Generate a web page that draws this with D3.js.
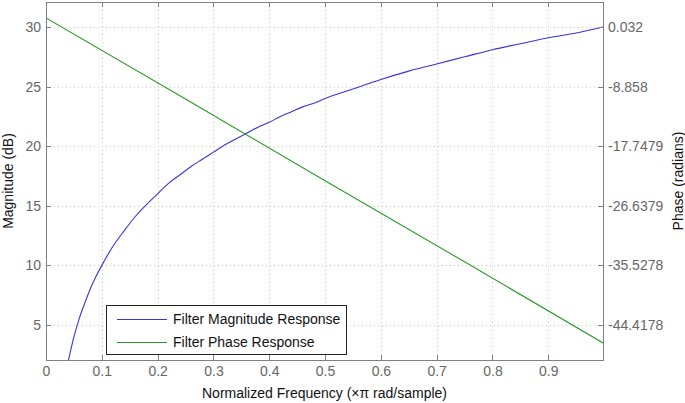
<!DOCTYPE html>
<html lang="en">
<head>
	<meta charset="UTF-8">
	<title>Filter response</title>
	<script src="https://d3js.org/d3.v7.min.js"></script>
	<style>
		body { margin: 0; background-color: white; }
		svg { display: block; background-color: white; }
		.axis path { stroke: none; }
		.axis line { stroke: #808080; shape-rendering: crispEdges; }
		.axis text { font-family: "Liberation Sans", Arial, sans-serif; font-size: 14px; fill: #666; }
		.grid line { stroke: #c8c8c8; stroke-dasharray: 1,3; shape-rendering: crispEdges; }
		.title { font-family: "Liberation Sans", Arial, sans-serif; font-size: 14px; fill: #111; }
		.legend text { font-family: "Liberation Sans", Arial, sans-serif; font-size: 14px; fill: #111; }
	</style>
</head>
<body>
	<script>
		// values
		var freq = [0.039, 0.04, 0.05, 0.06, 0.07, 0.08, 0.09, 0.10, 0.12, 0.14, 0.16, 0.18, 0.20,
			0.22, 0.24, 0.26, 0.28, 0.30, 0.32, 0.34, 0.36, 0.38, 0.40, 0.42, 0.44, 0.46, 0.48, 0.50,
			0.55, 0.60, 0.65, 0.70, 0.75, 0.80, 0.85, 0.90, 0.95, 0.998];
		var magnitude = [1.8, 2.0, 4.0, 5.6, 6.9, 8.1, 9.1, 10.0, 11.6, 12.9, 14.1, 15.1, 16.0,
			16.9, 17.6, 18.3, 18.9, 19.5, 20.1, 20.6, 21.1, 21.6, 22.0, 22.5, 22.9, 23.3, 23.6, 24.0,
			24.8, 25.6, 26.3, 26.9, 27.5, 28.1, 28.6, 29.1, 29.5, 30.0];
		var phaseFreq = [0, 0.25, 0.5, 0.75, 0.998];
		var phase = [1.4, -10.7, -22.9, -35.0, -47.1];

		var xTicks = [0, 0.1, 0.2, 0.3, 0.4, 0.5, 0.6, 0.7, 0.8, 0.9];
		var magTicks = [5, 10, 15, 20, 25, 30];
		var phaseTicks = [0.032, -8.858, -17.7479, -26.6379, -35.5278, -44.4178];
		var phaseTickLabels = ['0.032', '-8.858', '-17.7479', '-26.6379', '-35.5278', '-44.4178'];
		var seriesNames = ['Filter Magnitude Response', 'Filter Phase Response'];
		var seriesColors = ['#3535dc', '#2a9a2a'];

		var W = 685, H = 403;
		var margin = {top: 2, right: 82, bottom: 43, left: 46};
		var width = W - margin.left - margin.right,
			height = H - margin.top - margin.bottom;

		var x = d3.scaleLinear().domain([0, 0.998]).range([0, width]);
		var y = d3.scaleLinear().domain([2.06, 32.1]).range([height, 0]);
		var y2 = d3.scaleLinear().domain([-49.65, 3.77]).range([height, 0]);

		var svg = d3.select('body').append('svg')
			.attr('width', W).attr('height', H);
		var g = svg.append('g')
			.attr('transform', 'translate(' + margin.left + ',' + margin.top + ')');

		g.append('clipPath').attr('id', 'clip')
			.append('rect').attr('width', width).attr('height', height);

		// grid
		var grid = g.append('g').attr('class', 'grid');
		grid.selectAll('line.v').data(xTicks.slice(1)).enter().append('line')
			.attr('class', 'v')
			.attr('x1', function(d) { return Math.round(x(d)) + 0.5; })
			.attr('x2', function(d) { return Math.round(x(d)) + 0.5; })
			.attr('y1', 0).attr('y2', height);
		grid.selectAll('line.h').data(magTicks).enter().append('line')
			.attr('class', 'h')
			.attr('y1', function(d) { return Math.round(y(d)) + 0.5; })
			.attr('y2', function(d) { return Math.round(y(d)) + 0.5; })
			.attr('x1', 0).attr('x2', width);

		// lines
		var magLine = d3.line()
			.x(function(d, i) { return x(freq[i]); })
			.y(function(d) { return y(d); })
			.curve(d3.curveMonotoneX);
		var phaseLine = d3.line()
			.x(function(d, i) { return x(phaseFreq[i]); })
			.y(function(d) { return y2(d); });

		var plot = g.append('g').attr('clip-path', 'url(#clip)');
		plot.append('path').datum(magnitude)
			.attr('d', magLine)
			.attr('fill', 'none').attr('stroke', seriesColors[0]).attr('stroke-width', 1.1);
		plot.append('path').datum(phase)
			.attr('d', phaseLine)
			.attr('fill', 'none').attr('stroke', seriesColors[1]).attr('stroke-width', 1.1);

		// axes
		g.append('g').attr('class', 'axis')
			.attr('transform', 'translate(0,' + height + ')')
			.call(d3.axisBottom(x).tickValues(xTicks).tickSize(-5).tickPadding(6)
				.tickFormat(function(d) { return d3.format('')(d); }));
		g.append('g').attr('class', 'axis')
			.call(d3.axisTop(x).tickValues(xTicks).tickSize(-5).tickFormat(''));
		g.append('g').attr('class', 'axis')
			.call(d3.axisLeft(y).tickValues(magTicks).tickSize(-5).tickPadding(5));
		g.append('g').attr('class', 'axis')
			.attr('transform', 'translate(' + width + ',0)')
			.call(d3.axisRight(y2).tickValues(phaseTicks).tickSize(-5).tickPadding(5)
				.tickFormat(function(d, i) { return phaseTickLabels[i]; }));

		g.append('rect')
			.attr('x', 0.5).attr('y', 0.5)
			.attr('width', width).attr('height', height)
			.attr('fill', 'none').attr('stroke', '#808080');

		// titles
		svg.append('text').attr('class', 'title')
			.attr('text-anchor', 'middle')
			.attr('x', margin.left + width / 2).attr('y', 398)
			.text('Normalized Frequency (\u00d7\u03c0 rad/sample)');
		svg.append('text').attr('class', 'title')
			.attr('text-anchor', 'middle')
			.attr('transform', 'translate(13,' + (margin.top + height / 2) + ') rotate(-90)')
			.text('Magnitude (dB)');
		svg.append('text').attr('class', 'title')
			.attr('text-anchor', 'middle')
			.attr('transform', 'translate(683,' + (margin.top + height / 2) + ') rotate(-90)')
			.text('Phase (radians)');

		// legend
		var legend = svg.append('g').attr('class', 'legend')
			.attr('transform', 'translate(106,305)');
		legend.append('rect')
			.attr('x', 0.5).attr('y', 0.5).attr('width', 240).attr('height', 49)
			.attr('fill', 'white').attr('stroke', '#222');
		var item = legend.selectAll('g.item').data(seriesNames).enter().append('g')
			.attr('class', 'item')
			.attr('transform', function(d, i) { return 'translate(0,' + (14 + i * 23) + ')'; });
		item.append('line')
			.attr('x1', 11).attr('x2', 61).attr('y1', 0.5).attr('y2', 0.5)
			.attr('stroke', function(d, i) { return seriesColors[i]; });
		item.append('text')
			.attr('x', 67).attr('y', 5)
			.text(function(d) { return d; });
	</script>
</body>
</html>
